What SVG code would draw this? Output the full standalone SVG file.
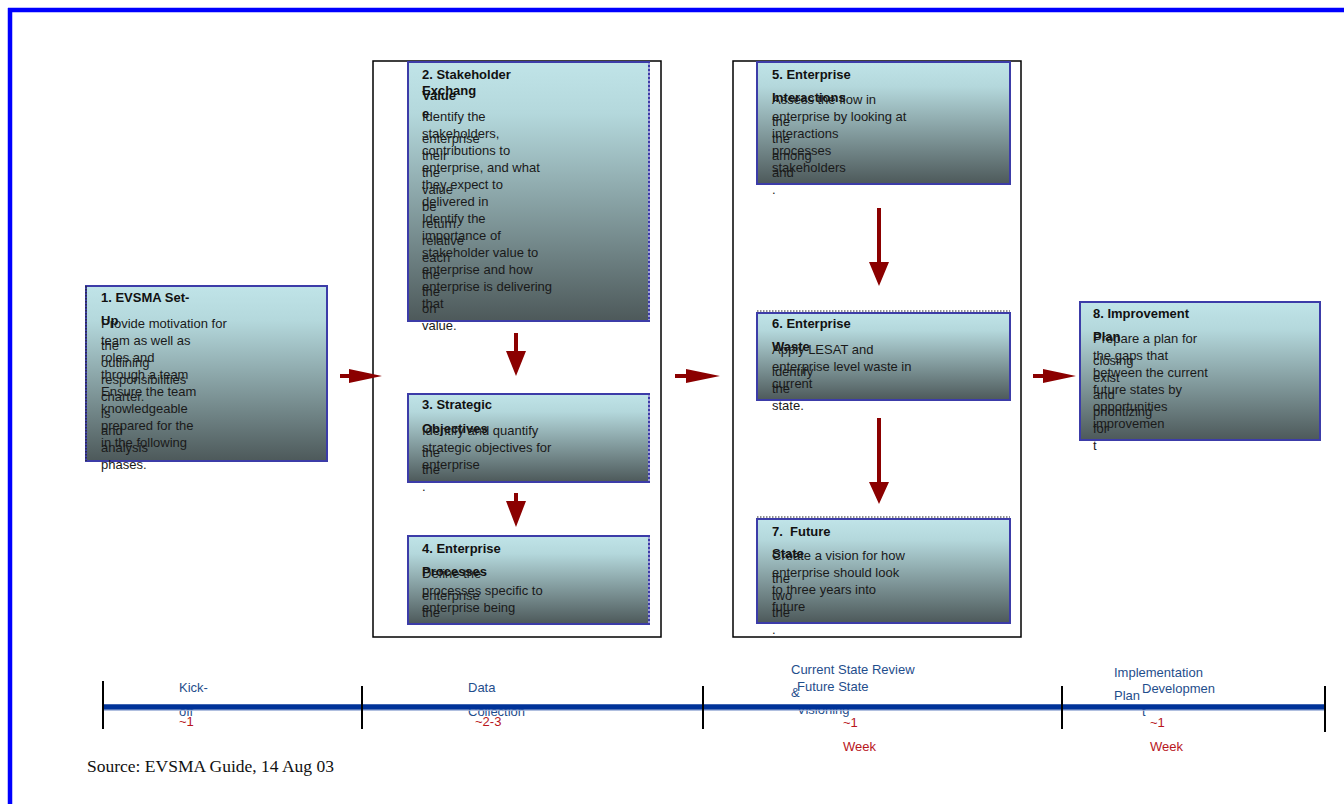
<svg xmlns="http://www.w3.org/2000/svg" width="1344" height="804" viewBox="0 0 1344 804">
<defs>
<linearGradient id="g" x1="0" y1="0" x2="0" y2="1">
<stop offset="0" stop-color="#c0e4e8"/>
<stop offset="0.2" stop-color="#b4d8dc"/>
<stop offset="1" stop-color="#4d595a"/>
</linearGradient>
</defs>
<style>
.box{fill:url(#g);stroke:#3c3ca8;stroke-width:2}
.dot{stroke:#222;stroke-width:1.2;stroke-dasharray:1.5,1.5;fill:none}
.dotb{stroke:#fff;stroke-width:1;stroke-dasharray:2,2;fill:none}
.frame{fill:none;stroke:#000;stroke-width:1.5}
.h{font-family:"Liberation Sans",Arial,sans-serif;font-size:13px;font-weight:bold;fill:#111}
.t{font-family:"Liberation Sans",Arial,sans-serif;font-size:13px;fill:#1a1a1a}
.tl{font-family:"Liberation Sans",Arial,sans-serif;font-size:13px;fill:#1f4e8c}
.tr{font-family:"Liberation Sans",Arial,sans-serif;font-size:13px;fill:#b8161c}
.arr{fill:#8b0000}
.tick{stroke:#000;stroke-width:2}
</style>
<rect x="0" y="0" width="1344" height="804" fill="#fff"/>
<g id="border">
<line x1="8" y1="10" x2="1344" y2="10" stroke="#0000ff" stroke-width="4.5"/>
<line x1="10" y1="8" x2="10" y2="804" stroke="#0000ff" stroke-width="4.5"/>
</g>
<g id="frames">
<rect class="frame" x="373" y="61" width="288" height="576"/>
<rect class="frame" x="733" y="61" width="288" height="576"/>
</g>
<g id="n1">
<rect class="box" x="86" y="286" width="241" height="175"/>
<line class="dot" x1="86" y1="286" x2="86" y2="461"/>
<text class="h" x="101" y="302">1. EVSMA Set-</text>
<text class="h" x="101" y="325">Up</text>
<text class="t" x="101" y="328">Provide motivation for</text>
<text class="t" x="101" y="345">team as well as</text>
<text class="t" x="101" y="362">roles and</text>
<text class="t" x="101" y="379">through a team</text>
<text class="t" x="101" y="396">Ensure the team</text>
<text class="t" x="101" y="413">knowledgeable</text>
<text class="t" x="101" y="430">prepared for the</text>
<text class="t" x="101" y="447">in the following</text>
<text class="t" x="101" y="350">the</text>
<text class="t" x="101" y="367">outlining</text>
<text class="t" x="101" y="384">responsibilities</text>
<text class="t" x="101" y="401">charter.</text>
<text class="t" x="101" y="418">is</text>
<text class="t" x="101" y="435">and</text>
<text class="t" x="101" y="452">analysis</text>
<text class="t" x="101" y="469">phases.</text>
</g>
<g id="n2">
<rect class="box" x="408" y="62" width="241" height="259"/>
<line class="dotb" x1="649" y1="63" x2="649" y2="320"/>
<text class="h" x="422" y="79">2. Stakeholder</text>
<text class="h" x="422" y="95">Exchang</text>
<text class="h" x="422" y="100">Value</text>
<text class="h" x="422" y="118">e</text>
<text class="t" x="422" y="121">Identify the</text>
<text class="t" x="422" y="138">stakeholders,</text>
<text class="t" x="422" y="155">contributions to</text>
<text class="t" x="422" y="172">enterprise, and what</text>
<text class="t" x="422" y="189">they expect to</text>
<text class="t" x="422" y="206">delivered in</text>
<text class="t" x="422" y="223">Identify the</text>
<text class="t" x="422" y="240">importance of</text>
<text class="t" x="422" y="257">stakeholder value to</text>
<text class="t" x="422" y="274">enterprise and how</text>
<text class="t" x="422" y="291">enterprise is delivering</text>
<text class="t" x="422" y="308">that</text>
<text class="t" x="422" y="143">enterprise</text>
<text class="t" x="422" y="160">their</text>
<text class="t" x="422" y="177">the</text>
<text class="t" x="422" y="194">value</text>
<text class="t" x="422" y="211">be</text>
<text class="t" x="422" y="228">return.</text>
<text class="t" x="422" y="245">relative</text>
<text class="t" x="422" y="262">each</text>
<text class="t" x="422" y="279">the</text>
<text class="t" x="422" y="296">the</text>
<text class="t" x="422" y="313">on</text>
<text class="t" x="422" y="330">value.</text>
</g>
<g id="n3">
<rect class="box" x="408" y="394" width="241" height="88"/>
<line class="dotb" x1="649" y1="395" x2="649" y2="481"/>
<text class="h" x="422" y="409">3. Strategic</text>
<text class="h" x="422" y="433">Objectives</text>
<text class="t" x="422" y="435">Identify and quantify</text>
<text class="t" x="422" y="452">strategic objectives for</text>
<text class="t" x="422" y="469">enterprise</text>
<text class="t" x="422" y="457">the</text>
<text class="t" x="422" y="474">the</text>
<text class="t" x="422" y="491">.</text>
</g>
<g id="n4">
<rect class="box" x="408" y="536" width="241" height="88"/>
<line class="dotb" x1="649" y1="537" x2="649" y2="623"/>
<text class="h" x="422" y="553">4. Enterprise</text>
<text class="h" x="422" y="576">Processes</text>
<text class="t" x="422" y="578">Define the</text>
<text class="t" x="422" y="595">processes specific to</text>
<text class="t" x="422" y="612">enterprise being</text>
<text class="t" x="422" y="600">enterprise</text>
<text class="t" x="422" y="617">the</text>
</g>
<g id="n5">
<rect class="box" x="757" y="62" width="253" height="122"/>
<text class="h" x="772" y="79">5. Enterprise</text>
<text class="h" x="772" y="102">Interactions</text>
<text class="t" x="772" y="104">Assess the flow in</text>
<text class="t" x="772" y="121">enterprise by looking at</text>
<text class="t" x="772" y="138">interactions</text>
<text class="t" x="772" y="155">processes</text>
<text class="t" x="772" y="172">stakeholders</text>
<text class="t" x="772" y="126">the</text>
<text class="t" x="772" y="143">the</text>
<text class="t" x="772" y="160">among</text>
<text class="t" x="772" y="177">and</text>
<text class="t" x="772" y="194">.</text>
</g>
<g id="n6">
<line class="dot" x1="757" y1="311" x2="1010" y2="311"/>
<rect class="box" x="757" y="313" width="253" height="87"/>
<text class="h" x="772" y="328">6. Enterprise</text>
<text class="h" x="772" y="351">Waste</text>
<text class="t" x="772" y="354">Apply LESAT and</text>
<text class="t" x="772" y="371">enterprise level waste in</text>
<text class="t" x="772" y="388">current</text>
<text class="t" x="772" y="376">identify</text>
<text class="t" x="772" y="393">the</text>
<text class="t" x="772" y="410">state.</text>
</g>
<g id="n7">
<line class="dot" x1="757" y1="517" x2="1010" y2="517"/>
<rect class="box" x="757" y="519" width="253" height="104"/>
<text class="h" x="772" y="536" xml:space="preserve">7.  Future</text>
<text class="h" x="772" y="558">State</text>
<text class="t" x="772" y="560">Create a vision for how</text>
<text class="t" x="772" y="577">enterprise should look</text>
<text class="t" x="772" y="594">to three years into</text>
<text class="t" x="772" y="611">future</text>
<text class="t" x="772" y="583">the</text>
<text class="t" x="772" y="600">two</text>
<text class="t" x="772" y="617">the</text>
<text class="t" x="772" y="634">.</text>
</g>
<g id="n8">
<rect class="box" x="1080" y="302" width="240" height="138"/>
<text class="h" x="1093" y="318">8. Improvement</text>
<text class="h" x="1093" y="341">Plan</text>
<text class="t" x="1093" y="343">Prepare a plan for</text>
<text class="t" x="1093" y="360">the gaps that</text>
<text class="t" x="1093" y="377">between the current</text>
<text class="t" x="1093" y="394">future states by</text>
<text class="t" x="1093" y="411">opportunities</text>
<text class="t" x="1093" y="428">improvemen</text>
<text class="t" x="1093" y="365">closing</text>
<text class="t" x="1093" y="382">exist</text>
<text class="t" x="1093" y="399">and</text>
<text class="t" x="1093" y="416">prioritizing</text>
<text class="t" x="1093" y="433">for</text>
<text class="t" x="1093" y="450">t</text>
</g>
<g id="connectors">
<polygon class="arr" points="340,374 349,374 349,369 382,376 349,383 349,378 340,378"/>
<polygon class="arr" points="675,374 686,374 686,369 720,376 686,383 686,378 675,378"/>
<polygon class="arr" points="1033,374 1043,374 1043,369 1076,376 1043,383 1043,378 1033,378"/>
<polygon class="arr" points="514,333 518,333 518,351 526,351 516,376 506,351 514,351"/>
<polygon class="arr" points="514,493 518,493 518,501 526,501 516,527 506,501 514,501"/>
<polygon class="arr" points="877,208 881,208 881,262 889,262 879,286 869,262 877,262"/>
<polygon class="arr" points="877,418 881,418 881,482 889,482 879,504 869,482 877,482"/>
</g>
<g id="timeline">
<text class="tl" x="179" y="692">Kick-</text>
<text class="tl" x="179" y="716">off</text>
<text class="tr" x="179" y="726">~1</text>
<text class="tl" x="468" y="692">Data</text>
<text class="tl" x="468" y="716">Collection</text>
<text class="tr" x="475" y="726">~2-3</text>
<text class="tl" x="791" y="674">Current State Review</text>
<text class="tl" x="791" y="697">&amp;</text>
<text class="tl" x="797" y="691">Future State</text>
<text class="tl" x="797" y="714">Visioning</text>
<text class="tr" x="843" y="727">~1</text>
<text class="tr" x="843" y="751">Week</text>
<text class="tl" x="1114" y="677">Implementation</text>
<text class="tl" x="1114" y="700">Plan</text>
<text class="tl" x="1142" y="693">Developmen</text>
<text class="tl" x="1142" y="716">t</text>
<text class="tr" x="1150" y="727">~1</text>
<text class="tr" x="1150" y="751">Week</text>
<line x1="103" y1="707" x2="1325" y2="707" stroke="#003399" stroke-width="5.5"/>
<line x1="103" y1="710.3" x2="1325" y2="710.3" stroke="#9db0d8" stroke-width="1"/>
<line class="tick" x1="103" y1="681" x2="103" y2="729"/>
<line class="tick" x1="362" y1="686" x2="362" y2="729"/>
<line class="tick" x1="703" y1="686" x2="703" y2="729"/>
<line class="tick" x1="1062" y1="686" x2="1062" y2="729"/>
<line class="tick" x1="1325" y1="686" x2="1325" y2="732"/>
</g>
<text x="87" y="772" font-family="'Liberation Serif','Times New Roman',serif" font-size="17.5" fill="#111">Source: EVSMA Guide, 14 Aug 03</text>
</svg>
